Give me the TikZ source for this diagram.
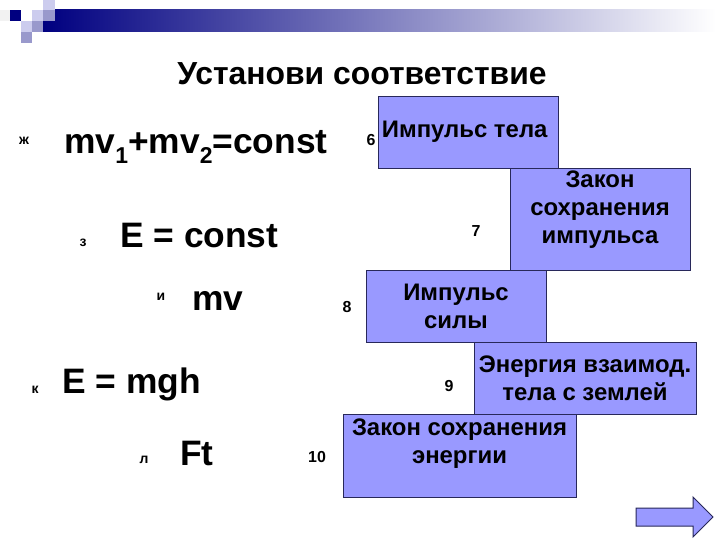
\documentclass[tikz,border=0pt]{standalone}
\usepackage{fontspec}
\setmainfont{Liberation Sans}
\usetikzlibrary{positioning}
\definecolor{boxfill}{RGB}{153,153,255}
\definecolor{boxline}{RGB}{40,40,90}
\definecolor{navy}{RGB}{0,0,128}
\definecolor{sqlight}{RGB}{204,204,238}
\definecolor{sqmid}{RGB}{153,153,204}
\newcommand{\lowidx}[1]{\raisebox{-0.28em}{\fontsize{23}{23}\selectfont #1}}
\begin{document}
\begin{tikzpicture}[
      x=1bp, y=-1bp
    ]

    \tikzstyle{answer} = [rectangle, draw=boxline, fill=boxfill, line width=0.8bp, outer sep=0pt, inner sep=1bp, align=center, font=\fontsize{24}{28}\selectfont\bfseries]

    \tikzstyle{formula} = [anchor=base west, inner sep=0pt, font=\fontsize{35.5}{40}\selectfont\bfseries]
    \tikzstyle{letter} = [anchor=base, inner sep=0pt, font=\fontsize{14}{16}\selectfont\bfseries]
    \tikzstyle{num} = [inner sep=0pt, font=\fontsize{16}{18}\selectfont\bfseries]

    \fill[white] (0,0) rectangle (720,540);
    \useasboundingbox (0,0) rectangle (720,540);

    % header bar and squares
    \shade[left color=navy, right color=white] (43,10) rectangle (716,32);
    \fill[gray!10] (0,10) rectangle (10,21);
    \fill[navy] (10,10) rectangle (21,21);
    \fill[sqlight] (32,10) rectangle (43,21);
    \fill[sqlight] (43,0) rectangle (55,10);
    \fill[sqmid] (43,10) rectangle (55,21);
    \fill[sqlight] (21,21) rectangle (32,32);
    \fill[sqmid] (32,21) rectangle (43,32);
    \fill[sqmid] (21,32) rectangle (32,43);

    \node (title) at (362,74) {\fontsize{32}{36}\selectfont\bfseries Установи соответствие};

    % answers
    \node [answer, minimum width=180bp, minimum height=72bp, anchor=north west] (impTela) at (378,96) {
    	Импульс тела
        };
    \node [answer, minimum width=180bp, minimum height=102bp, text depth=23bp] (zakonImp) [node distance=0bp and -48bp, below right=of impTela] {
    	Закон\\сохранения\\импульса
        };
    \node [answer, minimum width=180bp, minimum height=72bp] (impSily) [node distance=0bp and -36bp, below left=of zakonImp] {
    	Импульс\\силы
        };
    \node [answer, minimum width=222bp, minimum height=72bp] (energVz) [node distance=0bp and -72bp, below right=of impSily] {
    	Энергия взаимод.\\тела с землей
        };
    \node [answer, minimum width=233bp, minimum height=83bp, text depth=29bp] (zakonEn) [node distance=0bp and -102bp, below left=of energVz] {
    	Закон сохранения\\энергии
        };

    \node [num] (n6) at (371,140) {6};
    \node [num] (n7) at (476,231) {7};
    \node [num] (n8) at (347,307) {8};
    \node [num] (n9) at (449,386) {9};
    \node [num] (n10) at (317,457) {10};

    % formulas
    \node [letter] (lZh) at (24,145) {ж};
    \node [formula] (sumMv) at (64,154) {mv\lowidx{1}+mv\lowidx{2}=const};
    \node [letter] (lZ) at (83,247) {з};
    \node [formula] (eConst) at (120,248) {E = const};
    \node [letter] (lI) at (161,300) {и};
    \node [formula] (mvF) at (192,310) {mv};
    \node [letter] (lK) at (35,393) {к};
    \node [formula] (eMgh) at (62,393) {E = mgh};
    \node [letter] (lL) at (144,463) {л};
    \node [formula] (ftF) at (180,465) {Ft};

    % next button
    \draw[draw=boxline, fill=boxfill, line width=1bp] (636,508) -- (693,508) -- (693,497) -- (713,517) -- (693,537) -- (693,526) -- (636,526) -- cycle;

\end{tikzpicture}
\end{document}
